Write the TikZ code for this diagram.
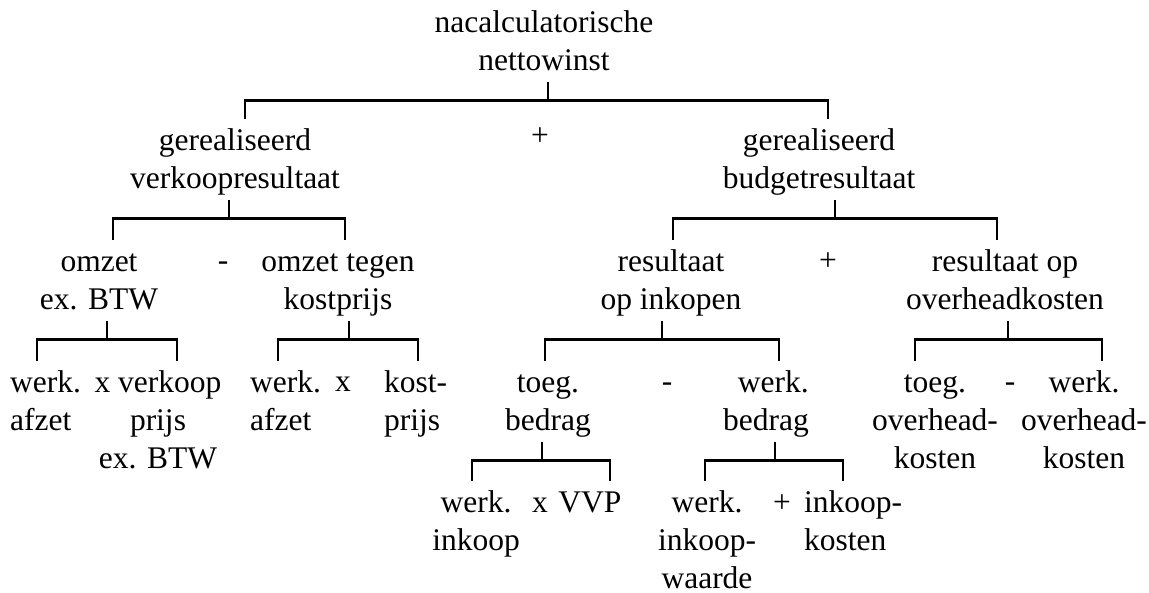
\documentclass[tikz,border=0pt]{standalone}
\usepackage{fontspec}
\setmainfont{Liberation Serif}
\newcommand\rs{\rule[-8pt]{0pt}{35pt}}
\begin{document}
\begin{tikzpicture}[x=1pt,y=-1pt,
	lbl/.style={font=\fontsize{31.5}{38}\selectfont,align=center,anchor=north,
		inner xsep=0pt,inner ysep=4pt},
	oper/.style={font=\fontsize{31.5}{38}\selectfont,inner sep=0pt,anchor=base},
	brk/.style={line width=2.8pt}]
	\useasboundingbox (0,0) rectangle (1149,593);
	% top
	\node[lbl] (root) at (544,1) {\rs nacalculatorische\\nettowinst\rs};
	\node[lbl] (vres) at (235,119) {\rs gerealiseerd\\verkoopresultaat\rs};
	\node[oper] (plus1) at (540,146) {+};
	\node[lbl] (bres) at (819,119) {\rs gerealiseerd\\budgetresultaat\rs};
	% second row
	\node[lbl] (omzet) at (99,240) {\rs omzet\\ex. BTW\rs};
	\node[oper] (min1) at (223,271) {-};
	\node[lbl] (omzkp) at (338,240) {\rs omzet tegen\\kostprijs\rs};
	\node[lbl] (resink) at (671,240) {\rs resultaat\\op inkopen\rs};
	\node[oper] (plus2) at (828,271) {+};
	\node[lbl] (resovh) at (1005,240) {\rs resultaat op\\overheadkosten\rs};
	% third row
	\node[lbl,anchor=north west,align=left] (wafz1) at (10,361) {\rs werk.\\afzet\rs};
	\node[lbl] (vkp) at (158,361) {\rs x verkoop\\prijs\\ex. BTW\rs};
	\node[lbl,anchor=north west,align=left] (wafz2) at (250,361) {\rs werk.\\afzet\rs};
	\node[oper] (x1) at (343,392) {x};
	\node[lbl,anchor=north west,align=left] (kp) at (384,361) {\rs kost-\\prijs\rs};
	\node[lbl] (toeg) at (548,361) {\rs toeg.\\bedrag\rs};
	\node[oper] (min2) at (667,392) {-};
	\node[lbl,anchor=north east,align=right] (werkb) at (809,361) {\rs werk.\\bedrag\rs};
	\node[lbl] (toegovh) at (935,361) {\rs toeg.\\overhead-\\kosten\rs};
	\node[oper] (min3) at (1010,392) {-};
	\node[lbl] (werkovh) at (1084,361) {\rs werk.\\overhead-\\kosten\rs};
	% fourth row
	\node[lbl] (wink) at (476,481) {\rs werk.\\inkoop\rs};
	\node[oper] (x2) at (540,512) {x};
	\node[lbl] (vvp) at (590,481) {\rs VVP\rs};
	\node[lbl] (wiw) at (707,481) {\rs werk.\\inkoop-\\waarde\rs};
	\node[oper] (plus3) at (782,512) {+};
	\node[lbl,anchor=north west,align=left] (ik) at (804,481) {\rs inkoop-\\kosten\rs};
	% brackets
	\draw[brk] ([xshift=4pt]root.south) -- ++(0,18) coordinate (j0);
	\draw[brk] ([xshift=10pt]vres.north) |- (j0) -| ([xshift=9pt]bres.north);
	\draw[brk] ([xshift=-6pt]vres.south) -- ++(0,18) coordinate (j1);
	\draw[brk] ([xshift=14pt]omzet.north) |- (j1) -| ([xshift=7pt]omzkp.north);
	\draw[brk] ([xshift=16pt]bres.south) -- ++(0,18) coordinate (j2);
	\draw[brk] ([xshift=2pt]resink.north) |- (j2) -| ([xshift=-8pt]resovh.north);
	\draw[brk] ([xshift=8pt]omzet.south) -- ++(0,18) coordinate (j3);
	\draw[brk] ([xshift=27pt]wafz1.north west) |- (j3) -| ([xshift=19pt]vkp.north);
	\draw[brk] ([xshift=11pt]omzkp.south) -- ++(0,18) coordinate (j4);
	\draw[brk] ([xshift=28pt]wafz2.north west) |- (j4) -| ([xshift=34pt]kp.north west);
	\draw[brk] ([xshift=-9pt]resink.south) -- ++(0,18) coordinate (j5);
	\draw[brk] ([xshift=-3pt]toeg.north) |- (j5) -| ([xshift=-30pt]werkb.north east);
	\draw[brk] ([xshift=3pt]resovh.south) -- ++(0,18) coordinate (j6);
	\draw[brk] ([xshift=-20pt]toegovh.north) |- (j6) -| ([xshift=18pt]werkovh.north);
	\draw[brk] ([xshift=-6pt]toeg.south) -- ++(0,18) coordinate (j7);
	\draw[brk] ([xshift=-4pt]wink.north) |- (j7) -| ([xshift=20pt]vvp.north);
	\draw[brk] ([xshift=-34pt]werkb.south east) -- ++(0,18) coordinate (j8);
	\draw[brk] ([xshift=-2pt]wiw.north) |- (j8) -| ([xshift=39pt]ik.north west);
\end{tikzpicture}
\end{document}
